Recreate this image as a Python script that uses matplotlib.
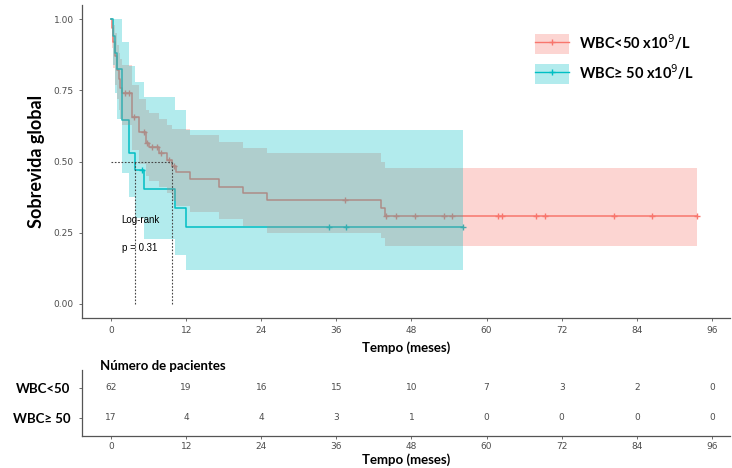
import numpy as np
import matplotlib.pyplot as plt
from matplotlib.patches import Patch
from matplotlib.lines import Line2D

# survival steps (months, survival, CI lower, CI upper)
red_times = [0, 0.15, 0.35, 0.6, 0.9, 1.2, 1.5, 1.8, 3.3, 4.45, 5.6, 6.1, 7.7, 8.9, 9.7,
             10.3, 12.6, 17.3, 21.1, 24.9, 43.2, 43.7]
red_surv = [1.0, 0.968, 0.919, 0.871, 0.823, 0.790, 0.758, 0.742, 0.656, 0.605, 0.564, 0.551,
            0.529, 0.506, 0.485, 0.463, 0.438, 0.412, 0.389, 0.365, 0.337, 0.310]
red_lower = [1.0, 0.90, 0.83, 0.77, 0.72, 0.68, 0.65, 0.63, 0.54, 0.49, 0.45, 0.43,
             0.41, 0.39, 0.36, 0.342, 0.321, 0.297, 0.272, 0.25, 0.23, 0.204]
red_upper = [1.0, 1.0, 0.98, 0.95, 0.91, 0.88, 0.86, 0.84, 0.77, 0.72, 0.68, 0.67,
             0.65, 0.63, 0.615, 0.614, 0.594, 0.57, 0.549, 0.529, 0.50, 0.477]
red_end = 93.6
red_censor = [2.2, 2.9, 3.6, 5.3, 5.8, 6.6, 7.3, 7.9, 9.2, 10.0, 37.4, 43.9, 45.6, 48.5,
              53.2, 54.4, 61.9, 62.4, 67.9, 69.3, 80.4, 86.5, 93.6]

cyan_times = [0, 0.27, 0.64, 1.0, 1.7, 2.9, 3.8, 5.3, 10.2, 12.0]
cyan_surv = [1.0, 0.941, 0.882, 0.824, 0.647, 0.529, 0.471, 0.403, 0.336, 0.269]
cyan_lower = [1.0, 0.84, 0.74, 0.65, 0.46, 0.376, 0.30, 0.228, 0.17, 0.12]
cyan_upper = [1.0, 1.0, 1.0, 1.0, 0.92, 0.834, 0.78, 0.728, 0.68, 0.61]
cyan_end = 56.2
cyan_censor = [5.0, 34.9, 37.5, 56.2]

medians = [3.8, 9.7]

risk_times = [0, 12, 24, 36, 48, 60, 72, 84, 96]
red_risk = [62, 19, 16, 15, 10, 7, 3, 2, 0]
cyan_risk = [17, 4, 4, 3, 1, 0, 0, 0, 0]
groups = ['WBC<50', 'WBC≥ 50']
legend_labels = ['WBC<50 x10$^{9}$/L', 'WBC≥ 50 x10$^{9}$/L']

RED = '#F8766D'
CYAN = '#00BFC4'
AXCOL = '#555555'
TICKCOL = '#4D4D4D'
NARROW = ['Liberation Sans Narrow', 'DejaVu Sans']
BOLD = ['Lato', 'DejaVu Sans']

W, H = 732, 468
fig = plt.figure(figsize=(W / 100, H / 100), dpi=100)


def px_axes(left, top, right, bottom):
    return fig.add_axes([left / W, 1 - bottom / H, (right - left) / W, (bottom - top) / H])


def style_axis(ax):
    for side in ['top', 'right']:
        ax.spines[side].set_visible(False)
    for side in ['left', 'bottom']:
        ax.spines[side].set_color(AXCOL)
        ax.spines[side].set_linewidth(0.9)
    ax.tick_params(colors=AXCOL, length=2.5, width=0.6, labelsize=6.5, labelcolor=TICKCOL)
    for lab in ax.get_xticklabels() + ax.get_yticklabels():
        lab.set_family(NARROW)


ax = px_axes(82, 5, 730, 318)
xlim = (-4.65, 98.9)


def draw_group(times, surv, lower, upper, end, censor, color):
    t = np.array(times + [end])
    s = np.array(surv + [surv[-1]])
    lo = np.array(lower + [lower[-1]])
    up = np.array(upper + [upper[-1]])
    ax.step(t, s, where='post', color=color, lw=1.1, zorder=2)
    idx = np.searchsorted(np.array(times), censor, side='right') - 1
    ax.plot(censor, np.array(surv)[idx], ls='none', marker='+', ms=5, mew=1.0,
            color=color, zorder=2)
    return t, lo, up


band_red = draw_group(red_times, red_surv, red_lower, red_upper, red_end, red_censor, RED)
band_cyan = draw_group(cyan_times, cyan_surv, cyan_lower, cyan_upper, cyan_end, cyan_censor, CYAN)
ax.fill_between(band_red[0], band_red[1], band_red[2], step='post', color=RED, alpha=0.3,
                lw=0, zorder=3)
ax.fill_between(band_cyan[0], band_cyan[1], band_cyan[2], step='post', color=CYAN, alpha=0.3,
                lw=0, zorder=4)

# median survival guides
ax.plot([0, max(medians)], [0.5, 0.5], ls=(0, (1.5, 1.5)), color='#444444', lw=0.8, zorder=5)
for m in medians:
    ax.plot([m, m], [0, 0.5], ls=(0, (1.5, 1.5)), color='#444444', lw=0.8, zorder=5)

ax.text(1.7, 0.295, 'Log-rank', fontsize=7, family=['Liberation Sans', 'DejaVu Sans'],
        va='center', zorder=6)
ax.text(1.7, 0.196, 'p = 0.31', fontsize=7, family=['Liberation Sans', 'DejaVu Sans'],
        va='center', zorder=6)

ax.set_xlim(*xlim)
ax.set_ylim(-0.05, 1.05)
ax.set_xticks(risk_times)
ax.set_yticks([0, 0.25, 0.5, 0.75, 1.0])
ax.set_yticklabels([f'{v:.2f}' for v in [0, 0.25, 0.5, 0.75, 1.0]])
style_axis(ax)
ax.set_xlabel('Tempo (meses)', fontsize=9.5, fontweight='bold', family=BOLD, labelpad=4)
ax.set_ylabel('Sobrevida global', fontsize=13, fontweight='bold', family=BOLD, labelpad=6)

handles = [(Patch(facecolor=RED, alpha=0.3, lw=0),
            Line2D([], [], color=RED, lw=1, marker='+', ms=4)),
           (Patch(facecolor=CYAN, alpha=0.3, lw=0),
            Line2D([], [], color=CYAN, lw=1, marker='+', ms=4))]
leg = ax.legend(handles, legend_labels, loc='upper right', bbox_to_anchor=(0.965, 0.955),
                frameon=False, prop={'family': BOLD, 'weight': 'bold', 'size': 10.5},
                handlelength=2.3, handleheight=1.75, handletextpad=0.7, labelspacing=0.55)

# risk table
tab = px_axes(82, 370, 730, 436)
for y, counts in zip([2, 1], [red_risk, cyan_risk]):
    for t, n in zip(risk_times, counts):
        tab.text(t, y, str(n), ha='center', va='center', fontsize=6.5, family=NARROW,
                 color=TICKCOL)
tab.set_xlim(*xlim)
tab.set_ylim(0.4, 2.6)
tab.set_xticks(risk_times)
tab.set_yticks([2, 1])
tab.set_yticklabels(groups)
style_axis(tab)
for lab in tab.get_yticklabels():
    lab.set_family(BOLD)
    lab.set_fontweight('bold')
    lab.set_fontsize(9.5)
    lab.set_color('black')
tab.yaxis.get_major_ticks()[0].tick1line.set_color(RED)
tab.tick_params(axis='y', pad=6)
tab.tick_params(axis='x', pad=1.5)
tab.set_xlabel('Tempo (meses)', fontsize=9.5, fontweight='bold', family=BOLD, labelpad=2)
fig.text(100 / W, 1 - 366 / H, 'Número de pacientes', fontsize=9.5, fontweight='bold',
         family=BOLD, va='center')

fig.savefig('out.png', dpi=100)
